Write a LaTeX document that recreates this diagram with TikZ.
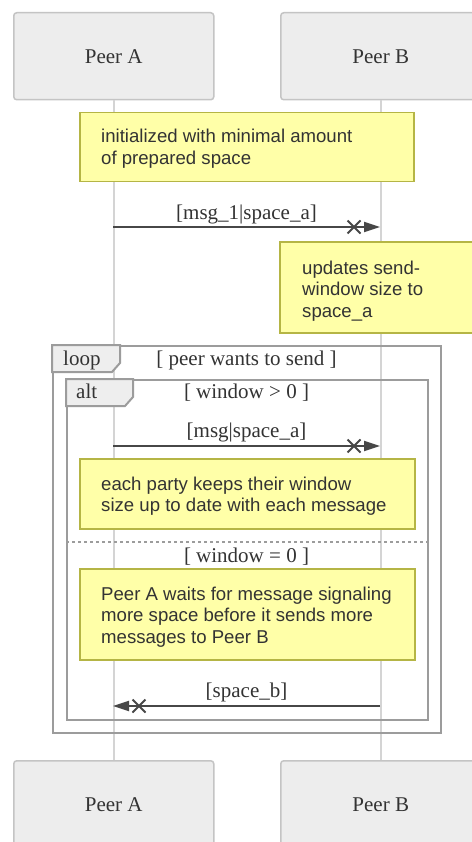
\documentclass[tikz,border=0pt]{standalone}
\usepackage{fontspec}
\setmainfont{Liberation Serif}
\newfontfamily\notefont{Liberation Sans}
\usetikzlibrary{arrows.meta,shapes.misc}

\definecolor{actorfill}{HTML}{EDEDED}
\definecolor{actorline}{HTML}{C4C4C4}
\definecolor{lifeline}{HTML}{D4D4D4}
\definecolor{notefill}{HTML}{FFFFA8}
\definecolor{noteline}{HTML}{B5B545}
\definecolor{msgline}{HTML}{474747}
\definecolor{framecol}{HTML}{9C9C9C}
\definecolor{tabfill}{HTML}{EEEEEE}
\definecolor{txt}{HTML}{333333}

\tikzset{
  actor/.style={draw=actorline, fill=actorfill, line width=1.5pt, rounded corners=3pt,
    minimum width=200pt, minimum height=87pt, anchor=north west, inner sep=0pt,
    font=\fontsize{21}{24}\selectfont, text=txt},
  life/.style={draw=lifeline, line width=2pt},
  note/.style={draw=noteline, fill=notefill, line width=1.5pt, anchor=north west, inner sep=0pt},
  notetext/.style={anchor=base west, inner sep=0pt, text=txt,
    font=\notefont\fontsize{18.6}{21.5}\selectfont},
  msg/.style={draw=msgline, line width=2pt, -{Triangle[length=16pt,width=10pt]}},
  xmark/.style={cross out, draw=msgline, line width=2pt, minimum size=11pt, inner sep=0pt},
  msglabel/.style={anchor=base, inner sep=0pt, text=txt, font=\fontsize{21}{24}\selectfont},
  framebox/.style={draw=framecol, line width=2pt, anchor=north west, inner sep=0pt},
  tab/.style={draw=framecol, fill=tabfill, line width=2pt},
  separator/.style={draw=framecol, line width=1.5pt, dash pattern=on 3pt off 3pt},
}

\begin{document}
\begin{tikzpicture}[x=1pt,y=-1pt]
\useasboundingbox (0,0) rectangle (471,842);
\fill[white] (0,0) rectangle (471,842);

% participants, top and bottom
\node[actor] (A1) at (13,12) {Peer A};
\node[actor] (B1) at (280,12) {Peer B};
\node[actor] (A2) at (13,760) {Peer A};
\node[actor] (B2) at (280,760) {Peer B};

% lifelines
\draw[life] (A1.south) -- (A2.north);
\draw[life] (B1.south) -- (B2.north);

% initial note
\node[note, minimum width=334pt, minimum height=69pt] (n1) at (79,112) {};
\node[notetext] (n1t) at (101,143) {\parbox[t]{300pt}{\raggedright initialized with minimal amount\\of prepared space}};

% first message
\coordinate (m1a) at (113,227);
\coordinate (m1b) at (380,227);
\draw[msg] (m1a) -- (m1b);
\node[xmark] (x1) at (354,227) {};
\node[msglabel] (l1) at (246.5,219) {[msg\_1|space\_a]};

% note on Peer B
\node[note, minimum width=200pt, minimum height=91pt] (n2) at (279,241) {};
\node[notetext] (n2t) at (302,274) {\parbox[t]{160pt}{\raggedright updates send-\\window size to\\space\_a}};

% loop frame
\node[framebox, minimum width=388pt, minimum height=387pt] (loopf) at (52,345) {};
\draw[tab] (loopf.north west) -- ++(68,0) -- ++(0,18) -- ++(-8,9) -- ++(-60,0) -- cycle;
\node[msglabel, anchor=base west] (loopt) at (63,365) {loop};
\node[msglabel] (loopc) at (246.5,365) {[ peer wants to send ]};

% alt frame
\node[framebox, minimum width=361pt, minimum height=340pt] (altf) at (66,379) {};
\draw[tab] (altf.north west) -- ++(67,0) -- ++(0,18) -- ++(-8,9) -- ++(-59,0) -- cycle;
\node[msglabel, anchor=base west] (altt) at (76,398) {alt};
\node[msglabel] (altc1) at (246.5,398) {[ window > 0 ]};

% second message
\coordinate (m2a) at (113,446);
\coordinate (m2b) at (380,446);
\draw[msg] (m2a) -- (m2b);
\node[xmark] (x2) at (354,446) {};
\node[msglabel] (l2) at (246.5,437) {[msg|space\_a]};

\node[note, minimum width=335pt, minimum height=70pt] (n3) at (79,458) {};
\node[notetext] (n3t) at (101,490) {\parbox[t]{310pt}{\raggedright each party keeps their window\\size up to date with each message}};

% else branch
\coordinate (s1) at (66,542);
\coordinate (s2) at (427,542);
\draw[separator] (s1) -- (s2);
\node[msglabel] (altc2) at (246.5,562) {[ window = 0 ]};

\node[note, minimum width=335pt, minimum height=91pt] (n4) at (79,568) {};
\node[notetext] (n4t) at (101,600) {\parbox[t]{310pt}{\raggedright Peer A waits for message signaling\\more space before it sends more\\messages to Peer B}};

% reply message
\coordinate (m3b) at (380,706);
\coordinate (m3a) at (113,706);
\draw[msg] (m3b) -- (m3a);
\node[xmark] (x3) at (139,706) {};
\node[msglabel] (l3) at (246.5,697) {[space\_b]};
\end{tikzpicture}
\end{document}
